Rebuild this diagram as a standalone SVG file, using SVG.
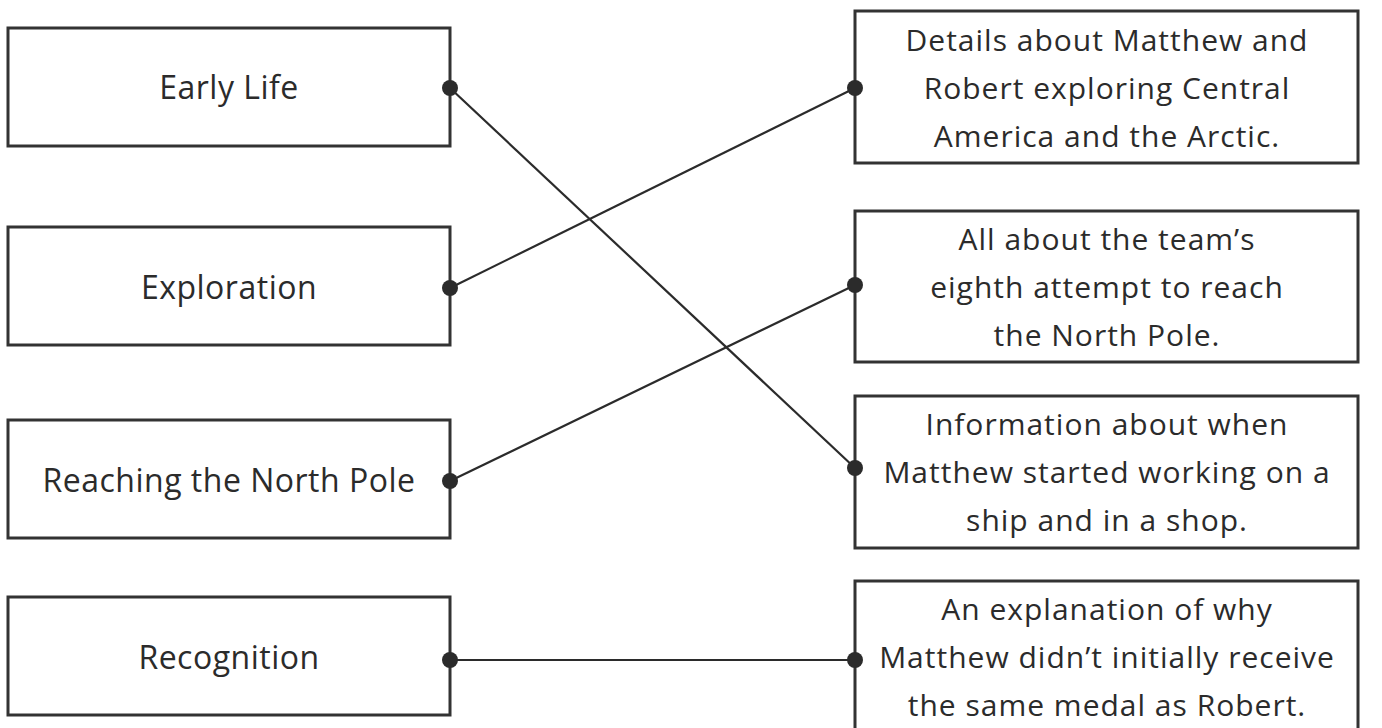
<svg xmlns="http://www.w3.org/2000/svg" width="1382" height="728" viewBox="0 0 1382 728">
<style>
.box{fill:#fff;stroke:#333;stroke-width:3}
.lt{font-family:"Open Sans","Liberation Sans",sans-serif;font-size:32px;letter-spacing:0.5px;fill:#2b2b2b;text-anchor:middle}
.rt{font-family:"Open Sans","Liberation Sans",sans-serif;font-size:30px;letter-spacing:1px;fill:#2b2b2b;text-anchor:middle}
.ln{stroke:#2b2b2b;stroke-width:2.2;fill:none}
.dot{fill:#2b2b2b}
</style>
<rect width="1382" height="728" fill="#fff"/>
<g id="early-life"><rect class="box" x="8" y="28" width="442" height="118"/><text class="lt" x="229" y="99">Early Life</text></g>
<g id="exploration"><rect class="box" x="8" y="227" width="442" height="118"/><text class="lt" x="229" y="299">Exploration</text></g>
<g id="reaching"><rect class="box" x="8" y="420" width="442" height="118"/><text class="lt" x="229" y="492">Reaching the North Pole</text></g>
<g id="recognition"><rect class="box" x="8" y="597" width="442" height="118"/><text class="lt" x="229" y="669">Recognition</text></g>
<g id="details"><rect class="box" x="855" y="11" width="503" height="152"/><text class="rt" x="1107" y="51">Details about Matthew and</text><text class="rt" x="1107" y="99">Robert exploring Central</text><text class="rt" x="1107" y="147">America and the Arctic.</text></g>
<g id="all-about"><rect class="box" x="855" y="211" width="503" height="151"/><text class="rt" x="1107" y="250">All about the team’s</text><text class="rt" x="1107" y="298">eighth attempt to reach</text><text class="rt" x="1107" y="346">the North Pole.</text></g>
<g id="information"><rect class="box" x="855" y="396" width="503" height="152"/><text class="rt" x="1107" y="435">Information about when</text><text class="rt" x="1107" y="483">Matthew started working on a</text><text class="rt" x="1107" y="531">ship and in a shop.</text></g>
<g id="explanation"><rect class="box" x="855" y="581" width="503" height="152"/><text class="rt" x="1107" y="620">An explanation of why</text><text class="rt" x="1107" y="668">Matthew didn’t initially receive</text><text class="rt" x="1107" y="716">the same medal as Robert.</text></g>
<g id="connectors">
<line class="ln" x1="450" y1="88" x2="855" y2="468"/>
<line class="ln" x1="450" y1="288" x2="855" y2="88"/>
<line class="ln" x1="450" y1="481" x2="855" y2="285"/>
<line class="ln" x1="450" y1="660" x2="855" y2="660"/>
<circle class="dot" cx="450" cy="88" r="8"/>
<circle class="dot" cx="450" cy="288" r="8"/>
<circle class="dot" cx="450" cy="481" r="8"/>
<circle class="dot" cx="450" cy="660" r="8"/>
<circle class="dot" cx="855" cy="88" r="8"/>
<circle class="dot" cx="855" cy="285" r="8"/>
<circle class="dot" cx="855" cy="468" r="8"/>
<circle class="dot" cx="855" cy="660" r="8"/>
</g>
</svg>
